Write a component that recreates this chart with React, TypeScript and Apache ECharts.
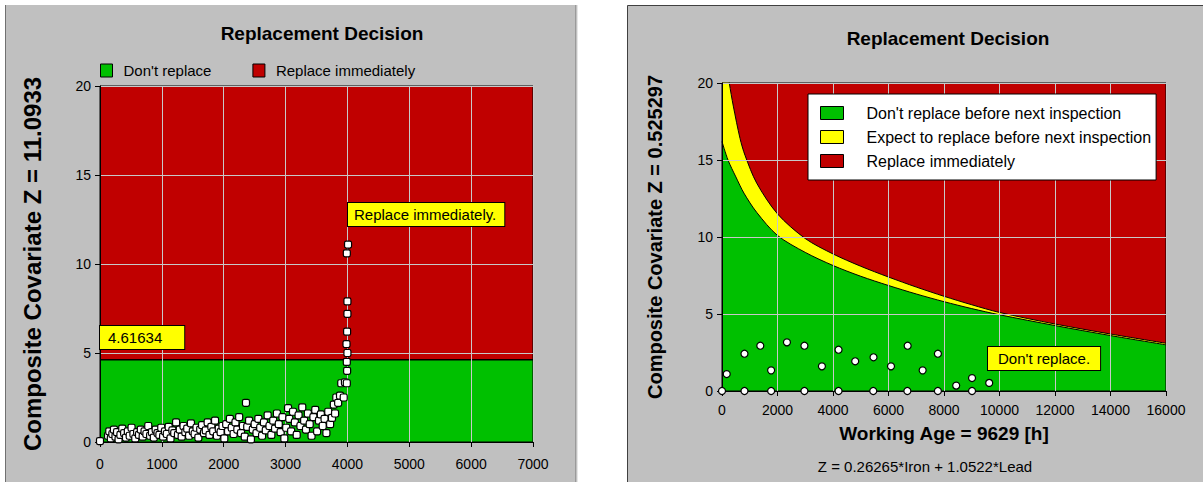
import React, { useEffect, useRef } from "react";
import * as echarts from "echarts";

const FONT = '"Liberation Sans", Arial, sans-serif';

// ---------- Left chart data ----------
const leftTitle = "Replacement Decision";
const leftYAxisName = "Composite Covariate Z = 11.0933";
const leftThreshold = 4.61634;
const leftXTicks = { min: 0, max: 7000, interval: 1000 };
const leftPoints: [number, number][] = [
  [0, 0.05], [130, 0.35], [150, 0.6], [175, 0.2], [200, 0.45], [225, 0.7], [250, 0.3], [275, 0.55],
  [300, 0.15], [330, 0.4], [360, 0.75], [390, 0.5], [420, 0.25], [450, 0.6], [480, 0.35], [510, 0.8],
  [540, 0.45], [570, 0.2], [600, 0.55], [630, 0.4], [660, 0.7], [690, 0.3], [720, 0.6], [750, 0.45],
  [780, 0.9], [810, 0.35], [840, 0.55], [870, 0.25], [900, 0.7], [930, 0.5], [960, 0.4], [990, 0.8],
  [1020, 0.3], [1050, 0.6], [1080, 0.45], [1110, 0.85], [1140, 0.2], [1170, 0.65], [1200, 0.5], [1230, 1.1],
  [1260, 0.4], [1290, 0.7], [1320, 0.3], [1350, 0.9], [1380, 0.55], [1410, 0.75], [1440, 0.35], [1470, 1.05],
  [1500, 0.6], [1530, 0.45], [1560, 0.8], [1590, 0.25], [1620, 0.7], [1650, 0.95], [1680, 0.5], [1710, 0.65],
  [1740, 1.1], [1770, 0.4], [1800, 0.85], [1830, 0.6], [1860, 1.2], [1890, 0.35], [1920, 0.75], [1950, 0.55],
  [1980, 0.9], [2010, 0.2], [2040, 1.0], [2070, 0.6], [2100, 1.3], [2130, 0.8], [2160, 0.45], [2190, 1.1],
  [2220, 0.7], [2250, 1.4], [2280, 0.5], [2310, 0.9], [2340, 0.3], [2360, 2.2], [2380, 0.85], [2410, 1.2],
  [2440, 0.15], [2470, 0.7], [2500, 1.0], [2530, 0.5], [2560, 1.3], [2590, 0.8], [2620, 0.35], [2650, 1.1],
  [2680, 0.65], [2710, 1.5], [2740, 0.9], [2770, 0.4], [2800, 1.2], [2830, 0.75], [2860, 1.6], [2890, 1.0],
  [2920, 0.55], [2950, 1.4], [2980, 0.2], [3010, 0.8], [3040, 1.9], [3060, 1.3], [3090, 0.6], [3120, 1.7],
  [3150, 1.1], [3180, 0.4], [3210, 1.5], [3240, 0.9], [3270, 1.95], [3300, 1.2], [3330, 0.7], [3360, 1.6],
  [3390, 1.0], [3420, 0.35], [3450, 1.4], [3480, 1.8], [3510, 0.6], [3540, 1.2], [3570, 1.55], [3600, 0.9],
  [3630, 1.3], [3660, 0.5], [3690, 1.7], [3720, 1.0], [3750, 1.35], [3780, 2.1], [3800, 1.6], [3820, 2.5],
  [3850, 2.2], [3880, 2.6], [3900, 3.3], [3940, 2.5], [3960, 3.35], [3990, 3.3], [3995, 4.0], [3990, 4.5],
  [4000, 5.0], [3985, 5.5], [3995, 6.2], [4000, 7.2], [4000, 7.9], [3990, 10.6], [4010, 11.0933],
];

// ---------- Right chart data ----------
const rightTitle = "Replacement Decision";
const rightYAxisName = "Composite Covariate Z = 0.525297";
const rightXAxisName = "Working Age = 9629 [h]";
const rightFormula = "Z = 0.26265*Iron + 1.0522*Lead";
const rightXTicks = { min: 0, max: 16000, interval: 2000 };
const rightYellowBoundary: [number, number][] = [
  [0, 24], [150, 21.5], [263, 20], [408, 18.5], [650, 16.4], [830, 15.3], [1250, 13.5], [2000, 11.5],
  [3000, 9.9], [4000, 8.9], [5000, 8.1], [6000, 7.4], [7000, 6.75], [8000, 6.15], [9000, 5.6],
  [10000, 5.1], [12000, 4.35], [14000, 3.7], [16000, 3.1],
];
const rightGreenBoundary: [number, number][] = [
  [0, 16.2], [216, 15.0], [500, 13.9], [790, 12.85], [1250, 11.6], [2000, 10.1], [3000, 9.0],
  [4000, 8.15], [5000, 7.45], [6000, 6.85], [7000, 6.3], [8000, 5.8], [9000, 5.35], [10000, 4.95],
  [12000, 4.25], [14000, 3.6], [16000, 3.0],
];
const rightPoints: [number, number][] = [
  [0, 0], [170, 1.1], [810, 0], [810, 2.42], [1380, 2.94], [1770, 0], [1770, 1.34], [2340, 3.16],
  [2970, 0], [2970, 2.94], [3600, 1.6], [4200, 0], [4200, 2.68], [4800, 1.93], [5450, 0], [5460, 2.19],
  [6090, 1.6], [6680, 0], [6690, 2.94], [7230, 1.34], [7780, 0], [7780, 2.42], [8440, 0.35], [9010, 0],
  [9010, 0.84], [9629, 0.525297],
];

const legendLeft = ["Don't replace", "Replace immediately"];
const legendRight = [
  "Don't replace before next inspection",
  "Expect to replace before next inspection",
  "Replace immediately",
];

const RED = "#c00000";
const GREEN = "#00c000";
const YELLOW = "#ffff00";
const GRID_LINE = "#c8c8c8";
const PANEL = "#c0c0c0";

function axisCommon(labelMargin: number) {
  return {
    z: 3,
    axisLine: { show: true, lineStyle: { color: "#000", width: 1 } },
    axisTick: { show: true, length: 5, lineStyle: { color: "#000" } },
    axisLabel: {
      color: "#000",
      fontSize: 14,
      fontFamily: FONT,
      margin: labelMargin,
      formatter: (v: number) => String(v),
    },
    splitLine: { show: true, lineStyle: { color: GRID_LINE, width: 1 } },
  };
}

export default function App() {
  const ref = useRef<HTMLDivElement>(null);

  useEffect(() => {
    if (!ref.current) return;
    const chart = echarts.init(ref.current, null, { renderer: "svg" });

    const option: any = {
      animation: false,
      backgroundColor: "#ffffff",
      title: [
        {
          text: leftTitle,
          left: 317,
          top: 19,
          textAlign: "center",
          textStyle: { fontFamily: FONT, fontSize: 19, fontWeight: "bold", color: "#000" },
        },
        {
          text: rightTitle,
          left: 943,
          top: 24,
          textAlign: "center",
          textStyle: { fontFamily: FONT, fontSize: 19, fontWeight: "bold", color: "#000" },
        },
        {
          text: rightFormula,
          left: 920,
          top: 454,
          textAlign: "center",
          textStyle: { fontFamily: FONT, fontSize: 15, fontWeight: "normal", color: "#000" },
        },
      ],
      legend: [
        {
          z: 10,
          left: 95,
          top: 58,
          orient: "horizontal",
          icon: "rect",
          itemWidth: 12,
          itemHeight: 13,
          itemGap: 41,
          padding: 5,
          itemStyle: { borderColor: "#000", borderWidth: 1 },
          textStyle: { fontFamily: FONT, fontSize: 15, color: "#000", padding: [0, 0, 0, 6] },
          data: [
            { name: legendLeft[0], itemStyle: { color: GREEN, borderColor: "#000", borderWidth: 1 } },
            { name: legendLeft[1], itemStyle: { color: RED, borderColor: "#000", borderWidth: 1 } },
          ],
          selectedMode: false,
        },
        {
          z: 10,
          left: 808,
          top: 94,
          orient: "vertical",
          icon: "rect",
          itemWidth: 23,
          itemHeight: 13,
          itemGap: 8,
          padding: [11, 5, 11, 12],
          backgroundColor: "#ffffff",
          borderColor: "#000",
          borderWidth: 1,
          itemStyle: { borderColor: "#000", borderWidth: 1 },
          textStyle: { fontFamily: FONT, fontSize: 16, color: "#000", padding: [0, 0, 0, 18] },
          data: [
            { name: legendRight[0], itemStyle: { color: GREEN, borderColor: "#000", borderWidth: 1 } },
            { name: legendRight[1], itemStyle: { color: YELLOW, borderColor: "#000", borderWidth: 1 } },
            { name: legendRight[2], itemStyle: { color: RED, borderColor: "#000", borderWidth: 1 } },
          ],
          selectedMode: false,
        },
      ],
      grid: [
        { left: 100, top: 86, width: 433, height: 356, show: true, borderColor: "#000", borderWidth: 1, backgroundColor: "transparent", z: 3 },
        { left: 722, top: 83, width: 444, height: 308, show: true, borderColor: "#000", borderWidth: 1, backgroundColor: "transparent", z: 3 },
      ],
      xAxis: [
        { ...axisCommon(15), gridIndex: 0, type: "value", ...leftXTicks },
        {
          ...axisCommon(12),
          gridIndex: 1,
          type: "value",
          ...rightXTicks,
          name: rightXAxisName,
          nameLocation: "middle",
          nameGap: 33,
          nameTextStyle: { fontFamily: FONT, fontSize: 19, fontWeight: "bold", color: "#000" },
        },
      ],
      yAxis: [
        {
          ...axisCommon(9),
          gridIndex: 0,
          type: "value",
          min: 0,
          max: 20,
          interval: 5,
          name: leftYAxisName,
          nameLocation: "middle",
          nameRotate: 90,
          nameGap: 56,
          nameTextStyle: { fontFamily: FONT, fontSize: 24, fontWeight: "bold", color: "#000" },
        },
        {
          ...axisCommon(9),
          gridIndex: 1,
          type: "value",
          min: 0,
          max: 20,
          interval: 5,
          name: rightYAxisName,
          nameLocation: "middle",
          nameRotate: 90,
          nameGap: 57,
          nameTextStyle: { fontFamily: FONT, fontSize: 20, fontWeight: "bold", color: "#000" },
        },
      ],
      series: [
        {
          name: legendLeft[1],
          type: "line",
          xAxisIndex: 0,
          yAxisIndex: 0,
          data: [[0, 20], [7000, 20]],
          symbol: "none",
          lineStyle: { width: 0, color: RED },
          areaStyle: { color: RED, opacity: 1 },
          silent: true,
          z: 1,
        },
        {
          name: legendLeft[0],
          type: "line",
          xAxisIndex: 0,
          yAxisIndex: 0,
          data: [[0, leftThreshold], [7000, leftThreshold]],
          symbol: "none",
          lineStyle: { width: 1.5, color: "#000" },
          areaStyle: { color: GREEN, opacity: 1 },
          silent: true,
          z: 2,
        },
        {
          name: "Composite covariate (left)",
          type: "scatter",
          xAxisIndex: 0,
          yAxisIndex: 0,
          data: leftPoints,
          symbol: "roundRect",
          symbolSize: 7,
          itemStyle: { color: "#ffffff", borderColor: "#000", borderWidth: 1.2, opacity: 1 },
          z: 6,
        },
        {
          name: legendRight[2],
          type: "line",
          xAxisIndex: 1,
          yAxisIndex: 1,
          data: [[0, 20], [16000, 20]],
          symbol: "none",
          lineStyle: { width: 0, color: RED },
          areaStyle: { color: RED, opacity: 1 },
          silent: true,
          z: 1,
        },
        {
          name: legendRight[1],
          type: "line",
          xAxisIndex: 1,
          yAxisIndex: 1,
          data: rightYellowBoundary,
          smooth: 0.3,
          symbol: "none",
          clip: true,
          lineStyle: { width: 1, color: "#000" },
          areaStyle: { color: YELLOW, opacity: 1 },
          silent: true,
          z: 2,
        },
        {
          name: legendRight[0],
          type: "line",
          xAxisIndex: 1,
          yAxisIndex: 1,
          data: rightGreenBoundary,
          smooth: 0.3,
          symbol: "none",
          clip: true,
          lineStyle: { width: 1, color: "#000" },
          areaStyle: { color: GREEN, opacity: 1 },
          silent: true,
          z: 2,
        },
        {
          name: "Composite covariate (right)",
          type: "scatter",
          xAxisIndex: 1,
          yAxisIndex: 1,
          data: rightPoints,
          symbol: "circle",
          symbolSize: 7,
          itemStyle: { color: "#ffffff", borderColor: "#000", borderWidth: 1.2, opacity: 1 },
          z: 6,
        },
      ],
      graphic: [
        { type: "rect", z: -10, shape: { x: 5, y: 5, width: 572, height: 477 }, style: { fill: PANEL } },
        { type: "line", z: -9, shape: { x1: 5.5, y1: 5, x2: 5.5, y2: 482 }, style: { stroke: "#707070", lineWidth: 1 } },
        { type: "line", z: -9, shape: { x1: 575.5, y1: 5, x2: 575.5, y2: 482 }, style: { stroke: "#9a9a9a", lineWidth: 1 } },
        { type: "line", z: -9, shape: { x1: 577.5, y1: 5, x2: 577.5, y2: 482 }, style: { stroke: "#e6e6e6", lineWidth: 1 } },
        { type: "rect", z: -10, shape: { x: 627.5, y: 5.5, width: 590, height: 490 }, style: { fill: PANEL, stroke: "#404040", lineWidth: 1 } },
        {
          type: "text",
          z: 50,
          x: 100,
          y: 326,
          style: {
            text: leftThreshold.toString(),
            fill: "#000",
            font: `15px ${FONT}`,
            backgroundColor: YELLOW,
            borderColor: "#000",
            borderWidth: 1,
            padding: [4, 22, 4, 8],
          },
        },
        {
          type: "text",
          z: 50,
          x: 348,
          y: 203,
          style: {
            text: "Replace immediately.",
            fill: "#000",
            font: `15px ${FONT}`,
            backgroundColor: YELLOW,
            borderColor: "#000",
            borderWidth: 1,
            padding: [4, 8, 4, 6],
          },
        },
        {
          type: "text",
          z: 50,
          x: 988,
          y: 347,
          style: {
            text: "Don't replace.",
            fill: "#000",
            font: `15px ${FONT}`,
            backgroundColor: YELLOW,
            borderColor: "#000",
            borderWidth: 1,
            padding: [4, 10, 4, 10],
          },
        },
      ],
    };

    chart.setOption(option);
    return () => chart.dispose();
  }, []);

  return (
    <div
      ref={ref}
      style={{ position: "fixed", left: 0, top: 0, width: 1203, height: 482, background: "#fff" }}
    />
  );
}
